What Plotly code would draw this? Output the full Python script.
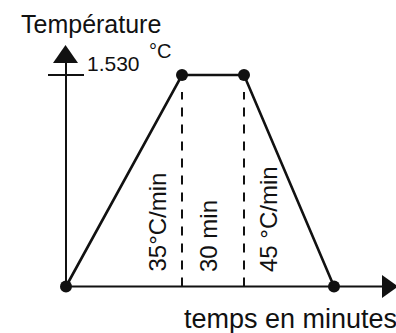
import plotly.graph_objects as go

# Profil thermique schématique : montée, palier, refroidissement
temps_schema = [0, 116, 178, 268]          # positions schématiques sur l'axe du temps
temperature = [0, 1530, 1530, 0]           # °C
palier = [temps_schema[1], temps_schema[2]]
etiquettes_segments = ["35°C/min", "30 min", "45 °C/min"]
valeur_max = "1.530"
unite = "°C"
titre_y = "Température"
titre_x = "temps en minutes"

W, H = 396, 333
# échelle : 1 unité de temps = 1 px ; origine en (66, 286.5)
ox, oy = 66, 286.5
ky = 1530 / (oy - 75)
x_range = [-ox, W - ox]
y_range = [-(H - oy) * ky, oy * ky]


def px_x(p):
    return p - ox


def px_y(p):
    return (oy - p) * ky


FONT = "Arial"
NOIR = "#111111"

fig = go.Figure()

# lignes verticales pointillées du palier
shapes = []
for t in palier:
    shapes.append(dict(type="line", x0=t, x1=t, y0=0, y1=px_y(92),
                       line=dict(color=NOIR, width=2, dash="9px,8px")))

# axe des ordonnées avec flèche
shapes.append(dict(type="line", x0=0, x1=0, y0=0, y1=px_y(62),
                   line=dict(color=NOIR, width=2)))
shapes.append(dict(type="path",
                   path=f"M {px_x(53)},{px_y(63)} L {px_x(65.5)},{px_y(45)} L {px_x(78)},{px_y(63)} Z",
                   fillcolor=NOIR, line=dict(color=NOIR, width=0)))
# repère du maximum
shapes.append(dict(type="line", x0=px_x(48), x1=px_x(84), y0=temperature[1], y1=temperature[1],
                   line=dict(color=NOIR, width=2)))

# axe des abscisses avec flèche
shapes.append(dict(type="line", x0=0, x1=px_x(383), y0=0, y1=0,
                   line=dict(color=NOIR, width=2)))
shapes.append(dict(type="path",
                   path=f"M {px_x(382)},{px_y(275)} L {px_x(398)},{px_y(286.5)} L {px_x(382)},{px_y(298)} Z",
                   fillcolor=NOIR, line=dict(color=NOIR, width=0)))

fig.add_trace(go.Scatter(
    x=temps_schema, y=temperature, mode="lines+markers",
    line=dict(color=NOIR, width=2.6),
    marker=dict(color=NOIR, size=12),
    hoverinfo="skip", showlegend=False,
))

annotations = [
    dict(text=titre_y, x=19 / W, y=1 - 24 / H, xref="paper", yref="paper",
         xanchor="left", yanchor="middle",
         showarrow=False, font=dict(size=25, family=FONT, color=NOIR)),
    dict(text=valeur_max, x=px_x(85), y=px_y(63.5), xanchor="left", yanchor="middle",
         showarrow=False, font=dict(size=21, family=FONT, color=NOIR)),
    dict(text=unite, x=px_x(147), y=px_y(51), xanchor="left", yanchor="middle",
         showarrow=False, font=dict(size=20, family=FONT, color=NOIR)),
    dict(text=titre_x, x=px_x(182), y=px_y(319), xanchor="left", yanchor="middle",
         showarrow=False, font=dict(size=27, family=FONT, color=NOIR)),
]
centres_x = [px_x(157), px_x(208), px_x(268)]
for txt, cx in zip(etiquettes_segments, centres_x):
    annotations.append(dict(text=txt, x=cx, y=px_y(274), xanchor="center", yanchor="bottom",
                            textangle=-90, showarrow=False,
                            font=dict(size=24, family=FONT, color=NOIR)))

fig.update_layout(
    width=W, height=H,
    margin=dict(l=0, r=0, t=0, b=0),
    paper_bgcolor="white", plot_bgcolor="white",
    xaxis=dict(range=x_range, visible=False, fixedrange=True),
    yaxis=dict(range=y_range, visible=False, fixedrange=True),
    shapes=shapes, annotations=annotations,
)

fig.write_html("out.html")
